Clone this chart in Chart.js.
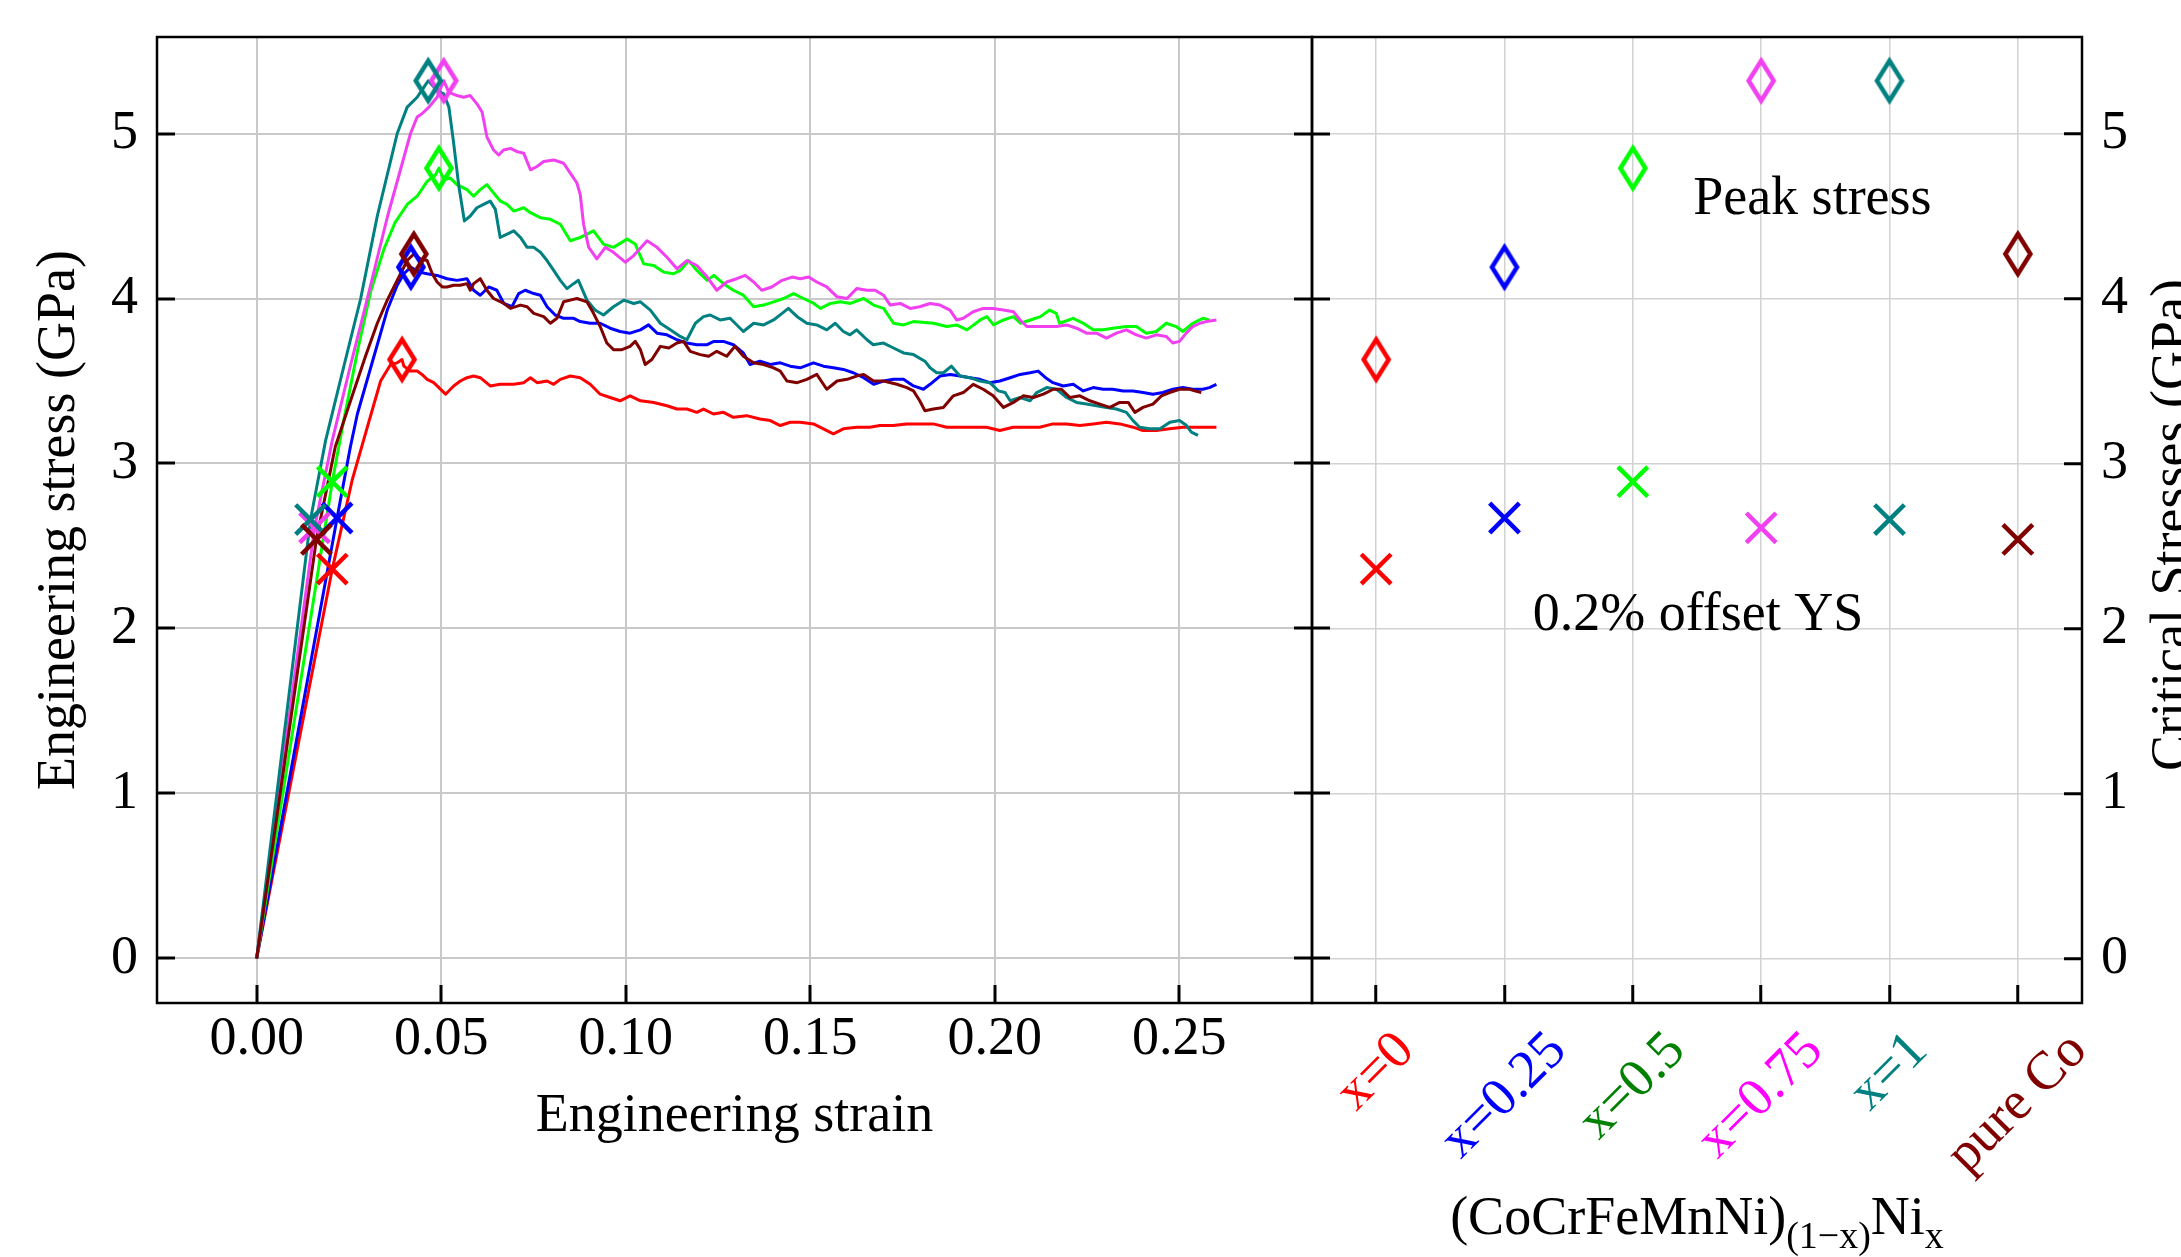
<!DOCTYPE html>
<html>
<head>
<meta charset="utf-8">
<script src="https://cdn.jsdelivr.net/npm/chart.js@4.4.1/dist/chart.umd.min.js"></script>
<style>
  html, body { margin: 0; padding: 0; background: #ffffff; }
  #wrap { position: relative; width: 2181px; height: 1257px; }
  #wrap canvas { position: absolute; left: 0; top: 0; }
</style>
</head>
<body>
<div id="wrap">
  <canvas id="curves" width="2181" height="1257"></canvas>
  <canvas id="summary" width="2181" height="1257"></canvas>
</div>
<script>
// ---------------- data ----------------
const alloys = ['x=0', 'x=0.25', 'x=0.5', 'x=0.75', 'x=1', 'pure Co'];

// critical stresses (GPa) and the strains where they occur
const peakStress  = [3.63, 4.19, 4.79, 5.32, 5.32, 4.27];
const peakStrain  = [0.0394, 0.0418, 0.0494, 0.0507, 0.0465, 0.0426];
const yieldStress = [2.36, 2.67, 2.89, 2.61, 2.66, 2.54];
const yieldStrain = [0.0205, 0.0218, 0.0205, 0.0157, 0.0146, 0.0162];

const strainTicks = [0, 0.05, 0.10, 0.15, 0.20, 0.25];
const stressTicks = [0, 1, 2, 3, 4, 5];

// engineering stress-strain curves, [strain, stress (GPa)]
const curveX0 = [[0,0],[0.0205,2.36],[0.0259,2.90],[0.0300,3.22],[0.0336,3.50],[0.0363,3.60],[0.0381,3.61],[0.0394,3.63],[0.0399,3.59],[0.0417,3.56],[0.0435,3.56],[0.0448,3.54],[0.0462,3.51],[0.0480,3.49],[0.0512,3.42],[0.0534,3.47],[0.0552,3.50],[0.0570,3.52],[0.0588,3.53],[0.0606,3.52],[0.0633,3.47],[0.0660,3.48],[0.0697,3.48],[0.0724,3.49],[0.0742,3.52],[0.0760,3.49],[0.0787,3.50],[0.0805,3.48],[0.0823,3.51],[0.0850,3.53],[0.0877,3.52],[0.0904,3.48],[0.0931,3.42],[0.0958,3.40],[0.0985,3.38],[0.1012,3.41],[0.1040,3.38],[0.1076,3.37],[0.1112,3.35],[0.1139,3.33],[0.1166,3.33],[0.1193,3.31],[0.1211,3.33],[0.1238,3.30],[0.1265,3.31],[0.1292,3.28],[0.1328,3.29],[0.1364,3.27],[0.1392,3.26],[0.1419,3.23],[0.1446,3.25],[0.1473,3.25],[0.1509,3.24],[0.1536,3.21],[0.1563,3.18],[0.1590,3.21],[0.1626,3.22],[0.1662,3.22],[0.1689,3.23],[0.1725,3.23],[0.1761,3.24],[0.1834,3.24],[0.1870,3.22],[0.1906,3.22],[0.1942,3.22],[0.1978,3.22],[0.2014,3.20],[0.2050,3.22],[0.2086,3.22],[0.2122,3.22],[0.2158,3.24],[0.2195,3.24],[0.2231,3.23],[0.2267,3.24],[0.2303,3.25],[0.2339,3.24],[0.2375,3.22],[0.2402,3.20],[0.2438,3.20],[0.2474,3.21],[0.2510,3.22],[0.2547,3.22],[0.2601,3.22]];

const curveX025 = [[0,0],[0.0218,2.67],[0.0254,3.10],[0.0273,3.30],[0.0318,3.65],[0.0354,3.93],[0.0381,4.08],[0.0399,4.15],[0.0418,4.19],[0.0440,4.16],[0.0462,4.15],[0.0489,4.14],[0.0516,4.12],[0.0543,4.11],[0.0570,4.12],[0.0588,4.05],[0.0606,4.02],[0.0629,4.07],[0.0651,4.05],[0.0670,3.97],[0.0692,3.95],[0.0710,4.03],[0.0728,4.05],[0.0751,4.03],[0.0769,4.02],[0.0787,3.95],[0.0809,3.90],[0.0832,3.88],[0.0859,3.88],[0.0877,3.86],[0.0904,3.85],[0.0931,3.85],[0.0958,3.82],[0.0985,3.80],[0.1012,3.79],[0.1040,3.81],[0.1062,3.84],[0.1085,3.79],[0.1112,3.78],[0.1139,3.75],[0.1166,3.73],[0.1193,3.72],[0.1221,3.72],[0.1239,3.74],[0.1265,3.74],[0.1292,3.72],[0.1319,3.67],[0.1337,3.60],[0.1364,3.62],[0.1392,3.60],[0.1419,3.61],[0.1446,3.59],[0.1473,3.58],[0.1509,3.61],[0.1536,3.59],[0.1563,3.58],[0.1590,3.57],[0.1617,3.55],[0.1645,3.52],[0.1672,3.48],[0.1699,3.50],[0.1726,3.51],[0.1753,3.51],[0.1780,3.47],[0.1807,3.45],[0.1825,3.48],[0.1852,3.53],[0.1880,3.54],[0.1906,3.53],[0.1933,3.52],[0.1960,3.51],[0.1987,3.49],[0.2014,3.50],[0.2042,3.52],[0.2069,3.54],[0.2096,3.55],[0.2118,3.56],[0.2138,3.52],[0.2158,3.49],[0.2186,3.47],[0.2213,3.48],[0.2240,3.44],[0.2267,3.46],[0.2294,3.45],[0.2320,3.45],[0.2348,3.44],[0.2375,3.44],[0.2402,3.43],[0.2429,3.42],[0.2456,3.43],[0.2483,3.45],[0.2510,3.46],[0.2537,3.45],[0.2564,3.45],[0.2582,3.46],[0.2601,3.48]];

const curveX05 = [[0,0],[0.0205,2.89],[0.0235,3.25],[0.0275,3.70],[0.0310,4.05],[0.0345,4.30],[0.0375,4.46],[0.0408,4.57],[0.0435,4.62],[0.0462,4.71],[0.0485,4.75],[0.0494,4.79],[0.0507,4.72],[0.0525,4.73],[0.0543,4.69],[0.0570,4.66],[0.0588,4.62],[0.0606,4.66],[0.0624,4.69],[0.0642,4.64],[0.0661,4.59],[0.0679,4.57],[0.0697,4.53],[0.0724,4.55],[0.0742,4.52],[0.0769,4.49],[0.0796,4.48],[0.0823,4.45],[0.0850,4.35],[0.0877,4.37],[0.0913,4.41],[0.0940,4.33],[0.0967,4.31],[0.1004,4.36],[0.1026,4.33],[0.1049,4.21],[0.1076,4.20],[0.1103,4.16],[0.1130,4.15],[0.1148,4.17],[0.1171,4.23],[0.1193,4.17],[0.1221,4.11],[0.1239,4.14],[0.1265,4.09],[0.1292,4.05],[0.1319,4.02],[0.1347,3.95],[0.1374,3.96],[0.1401,3.98],[0.1428,4.00],[0.1455,4.03],[0.1482,4.00],[0.1510,3.97],[0.1528,3.94],[0.1555,3.97],[0.1582,3.98],[0.1609,3.97],[0.1645,4.00],[0.1672,3.96],[0.1699,3.94],[0.1726,3.85],[0.1753,3.84],[0.1780,3.86],[0.1834,3.85],[0.1870,3.83],[0.1897,3.84],[0.1925,3.81],[0.1961,3.87],[0.1979,3.89],[0.1997,3.84],[0.2024,3.87],[0.2051,3.89],[0.2070,3.85],[0.2097,3.87],[0.2124,3.89],[0.2149,3.93],[0.2167,3.91],[0.2176,3.85],[0.2213,3.88],[0.2240,3.85],[0.2267,3.81],[0.2294,3.81],[0.2320,3.82],[0.2357,3.83],[0.2384,3.83],[0.2411,3.79],[0.2438,3.80],[0.2465,3.85],[0.2492,3.83],[0.2510,3.80],[0.2537,3.85],[0.2564,3.88],[0.2582,3.87]];

const curveX075 = [[0,0],[0.0157,2.61],[0.0205,3.14],[0.0255,3.60],[0.0300,4.00],[0.0355,4.50],[0.0417,5.00],[0.0435,5.10],[0.0448,5.12],[0.0467,5.16],[0.0489,5.22],[0.0507,5.32],[0.0521,5.25],[0.0543,5.23],[0.0561,5.22],[0.0579,5.23],[0.0597,5.18],[0.0611,5.13],[0.0624,4.98],[0.0642,4.90],[0.0656,4.87],[0.0669,4.90],[0.0688,4.91],[0.0706,4.89],[0.0724,4.88],[0.0742,4.78],[0.0760,4.80],[0.0778,4.83],[0.0805,4.84],[0.0832,4.82],[0.0850,4.76],[0.0868,4.70],[0.0877,4.63],[0.0886,4.45],[0.0900,4.31],[0.0922,4.24],[0.0945,4.31],[0.0967,4.28],[0.0999,4.22],[0.1022,4.26],[0.1058,4.35],[0.1085,4.31],[0.1112,4.25],[0.1139,4.18],[0.1166,4.23],[0.1193,4.20],[0.1221,4.13],[0.1247,4.05],[0.1274,4.10],[0.1301,4.12],[0.1324,4.14],[0.1347,4.10],[0.1369,4.05],[0.1396,4.07],[0.1424,4.11],[0.1451,4.13],[0.1473,4.12],[0.1496,4.13],[0.1518,4.10],[0.1545,4.07],[0.1573,4.01],[0.1600,4.00],[0.1626,4.06],[0.1654,4.05],[0.1676,4.05],[0.1699,4.02],[0.1717,3.96],[0.1744,3.97],[0.1771,3.94],[0.1797,3.95],[0.1825,3.97],[0.1852,3.96],[0.1879,3.93],[0.1897,3.87],[0.1915,3.88],[0.1942,3.92],[0.1969,3.94],[0.1996,3.94],[0.2024,3.93],[0.2051,3.92],[0.2069,3.87],[0.2087,3.83],[0.2114,3.83],[0.2141,3.83],[0.2168,3.83],[0.2195,3.84],[0.2222,3.82],[0.2249,3.79],[0.2276,3.79],[0.2303,3.76],[0.2330,3.79],[0.2357,3.81],[0.2384,3.78],[0.2411,3.76],[0.2438,3.78],[0.2465,3.77],[0.2483,3.73],[0.2501,3.74],[0.2519,3.79],[0.2537,3.83],[0.2556,3.85],[0.2574,3.86],[0.2601,3.87]];

const curveX1 = [[0,0],[0.0146,2.66],[0.0187,3.14],[0.0232,3.55],[0.0282,4.00],[0.0327,4.50],[0.0381,5.00],[0.0408,5.16],[0.0435,5.22],[0.0453,5.28],[0.0465,5.32],[0.0489,5.26],[0.0507,5.24],[0.0521,5.16],[0.0534,4.94],[0.0548,4.68],[0.0563,4.47],[0.0579,4.50],[0.0597,4.55],[0.0615,4.57],[0.0633,4.59],[0.0647,4.54],[0.0660,4.37],[0.0679,4.39],[0.0697,4.41],[0.0715,4.37],[0.0733,4.31],[0.0751,4.31],[0.0769,4.28],[0.0787,4.23],[0.0805,4.17],[0.0823,4.11],[0.0841,4.06],[0.0859,4.09],[0.0872,4.11],[0.0895,3.99],[0.0917,3.93],[0.0940,3.90],[0.0967,3.95],[0.0995,3.99],[0.1022,3.97],[0.1040,3.98],[0.1067,3.93],[0.1094,3.85],[0.1121,3.81],[0.1148,3.77],[0.1166,3.75],[0.1189,3.85],[0.1211,3.89],[0.1229,3.90],[0.1256,3.87],[0.1283,3.88],[0.1319,3.80],[0.1347,3.85],[0.1374,3.84],[0.1401,3.87],[0.1424,3.91],[0.1441,3.94],[0.1465,3.89],[0.1491,3.85],[0.1518,3.84],[0.1545,3.81],[0.1568,3.85],[0.1590,3.80],[0.1608,3.78],[0.1626,3.81],[0.1654,3.75],[0.1671,3.72],[0.1699,3.73],[0.1726,3.70],[0.1753,3.67],[0.1780,3.66],[0.1811,3.62],[0.1825,3.58],[0.1843,3.55],[0.1861,3.55],[0.1883,3.59],[0.1906,3.53],[0.1933,3.52],[0.1960,3.50],[0.1987,3.49],[0.2010,3.44],[0.2028,3.43],[0.2042,3.38],[0.2069,3.40],[0.2096,3.38],[0.2114,3.43],[0.2141,3.46],[0.2168,3.45],[0.2195,3.40],[0.2222,3.37],[0.2249,3.36],[0.2276,3.35],[0.2303,3.34],[0.2330,3.33],[0.2357,3.31],[0.2375,3.26],[0.2393,3.22],[0.2420,3.21],[0.2448,3.21],[0.2475,3.25],[0.2501,3.26],[0.2520,3.23],[0.2533,3.19],[0.2551,3.17]];

const curveCo = [[0,0],[0.0162,2.54],[0.0213,3.10],[0.0250,3.35],[0.0295,3.65],[0.0327,3.85],[0.0354,3.99],[0.0390,4.15],[0.0408,4.23],[0.0426,4.27],[0.0444,4.24],[0.0462,4.23],[0.0476,4.15],[0.0489,4.10],[0.0503,4.07],[0.0516,4.07],[0.0534,4.08],[0.0552,4.08],[0.0570,4.09],[0.0579,4.05],[0.0588,4.09],[0.0606,4.12],[0.0624,4.05],[0.0642,4.00],[0.0670,3.97],[0.0688,3.94],[0.0715,3.96],[0.0733,3.95],[0.0751,3.91],[0.0778,3.89],[0.0796,3.85],[0.0814,3.88],[0.0832,3.98],[0.0850,3.99],[0.0868,4.00],[0.0895,3.98],[0.0913,3.91],[0.0931,3.83],[0.0949,3.73],[0.0967,3.69],[0.0990,3.69],[0.1012,3.71],[0.1026,3.74],[0.1040,3.69],[0.1053,3.60],[0.1071,3.63],[0.1094,3.71],[0.1117,3.70],[0.1139,3.73],[0.1157,3.74],[0.1175,3.68],[0.1202,3.66],[0.1225,3.65],[0.1247,3.68],[0.1274,3.65],[0.1296,3.71],[0.1319,3.65],[0.1347,3.61],[0.1374,3.60],[0.1401,3.58],[0.1419,3.56],[0.1437,3.50],[0.1465,3.49],[0.1491,3.51],[0.1518,3.54],[0.1545,3.45],[0.1573,3.50],[0.1600,3.51],[0.1626,3.53],[0.1645,3.54],[0.1672,3.50],[0.1699,3.50],[0.1735,3.48],[0.1762,3.46],[0.1780,3.44],[0.1797,3.38],[0.1811,3.32],[0.1834,3.33],[0.1861,3.34],[0.1888,3.41],[0.1915,3.43],[0.1942,3.48],[0.1969,3.45],[0.1996,3.41],[0.2024,3.34],[0.2051,3.37],[0.2078,3.41],[0.2105,3.40],[0.2132,3.42],[0.2159,3.45],[0.2181,3.45],[0.2204,3.40],[0.2231,3.41],[0.2258,3.38],[0.2285,3.36],[0.2312,3.34],[0.2339,3.37],[0.2362,3.37],[0.2380,3.31],[0.2402,3.34],[0.2429,3.36],[0.2452,3.41],[0.2474,3.43],[0.2501,3.45],[0.2529,3.45],[0.2542,3.44],[0.2560,3.43]];

const curves = [curveX0, curveX025, curveX05, curveX075, curveX1, curveCo];

// ---------------- styling ----------------
const FONT = "'Liberation Serif', 'DejaVu Serif', serif";
const FS = 54;
const markColors  = ['#ff0000', '#0000ff', '#00ff00', '#f040f0', '#008080', '#800000'];
const labelColors = ['#ff0000', '#0000ff', '#008000', '#ff00ff', '#008080', '#800000'];

Chart.defaults.font.family = FONT;
Chart.defaults.font.size = FS;
Chart.defaults.color = '#000000';

const Y_MIN = -0.27, Y_MAX = 5.585;

// thin open diamond used as the peak-stress marker
function diamondMarker(color) {
  const w = 25, h = 40, lw = 4.5;
  const c = document.createElement('canvas');
  c.width = 40; c.height = 58;
  const g = c.getContext('2d');
  g.strokeStyle = color; g.lineWidth = lw; g.lineJoin = 'miter';
  const cx = c.width / 2, cy = c.height / 2;
  g.beginPath();
  g.moveTo(cx, cy - h / 2); g.lineTo(cx + w / 2, cy);
  g.lineTo(cx, cy + h / 2); g.lineTo(cx - w / 2, cy);
  g.closePath(); g.stroke();
  return c;
}
const diamonds = markColors.map(diamondMarker);

const fixedTicks = values => scale => { scale.ticks = values.map(v => ({ value: v })); };
function clearPadding(s) { s.paddingTop = 0; s.paddingBottom = 0; s.paddingLeft = 0; s.paddingRight = 0; }
function gridOpts(extra) {
  return Object.assign({ color: '#c9c9c9', lineWidth: 2, tickColor: '#000000', tickWidth: 3,
                         tickLength: -18, drawTicks: true }, extra || {});
}

const framePlugin = {
  id: 'frame',
  afterDraw(chart) {
    const { ctx, chartArea: a } = chart;
    ctx.save();
    ctx.strokeStyle = '#000000';
    ctx.lineWidth = 2.5;
    ctx.strokeRect(a.left, a.top, a.right - a.left, a.bottom - a.top);
    ctx.restore();
  }
};

// ---------------- left panel: stress-strain curves ----------------
const curveSets = curves.map((c, i) => ({
  type: 'scatter',
  data: c.map(p => ({ x: p[0], y: p[1] })),
  showLine: true,
  borderColor: markColors[i],
  borderWidth: 3,
  borderJoinStyle: 'round',
  pointRadius: 0,
  tension: 0,
  order: 10 - i
}));
const peakSet = {
  data: peakStrain.map((s, i) => ({ x: s, y: peakStress[i] })),
  showLine: false, pointStyle: diamonds, pointRadius: 12, order: 0
};
const yieldSet = {
  data: yieldStrain.map((s, i) => ({ x: s, y: yieldStress[i] })),
  showLine: false, pointStyle: 'crossRot', pointRadius: 21,
  pointBorderColor: markColors, pointBackgroundColor: markColors, pointBorderWidth: 4.5, order: 0
};

const leftText = {
  id: 'leftText',
  afterDraw(chart) {
    const { ctx, chartArea: a } = chart;
    ctx.save();
    ctx.fillStyle = '#000000';
    ctx.font = `${FS}px ${FONT}`;
    ctx.textAlign = 'center';
    ctx.textBaseline = 'alphabetic';
    ctx.fillText('Engineering strain', (a.left + a.right) / 2, a.bottom + 128);
    ctx.translate(74, (a.top + a.bottom) / 2);
    ctx.rotate(-Math.PI / 2);
    ctx.fillText('Engineering stress (GPa)', 0, 0);
    ctx.restore();
  }
};

new Chart(document.getElementById('curves'), {
  type: 'scatter',
  data: { datasets: [peakSet, yieldSet, ...curveSets] },
  options: {
    responsive: false, animation: false, devicePixelRatio: 1, events: [],
    layout: { padding: { top: 37, left: 0, right: 0, bottom: 0 } },
    plugins: { legend: { display: false }, tooltip: { enabled: false } },
    scales: {
      x: {
        type: 'linear', position: 'bottom', min: -0.027, max: 0.286,
        afterBuildTicks: fixedTicks(strainTicks),
        afterFit: s => { s.height = 254; clearPadding(s); },
        grid: gridOpts(), border: { display: false },
        ticks: { padding: 22, maxRotation: 0, autoSkip: false, callback: v => v.toFixed(2) }
      },
      y: {
        type: 'linear', position: 'left', min: Y_MIN, max: Y_MAX,
        afterBuildTicks: fixedTicks(stressTicks),
        afterFit: s => { s.width = 157; clearPadding(s); },
        grid: gridOpts(), border: { display: false },
        ticks: { padding: 37, callback: v => String(v) }
      },
      yEdge: {
        type: 'linear', position: 'right', min: Y_MIN, max: Y_MAX,
        afterBuildTicks: fixedTicks(stressTicks),
        afterFit: s => { s.width = 869; clearPadding(s); },
        grid: gridOpts({ drawOnChartArea: false }), border: { display: false },
        ticks: { display: false }
      }
    }
  },
  plugins: [framePlugin, leftText]
});

// ---------------- right panel: critical stresses per alloy ----------------
const rightText = {
  id: 'rightText',
  afterDraw(chart) {
    const { ctx, chartArea: a } = chart;
    const xs = chart.scales.x, ys = chart.scales.y;
    ctx.save();
    ctx.font = `${FS}px ${FONT}`;

    // rotated alloy names under each column
    alloys.forEach((lab, i) => {
      const px = xs.getPixelForValue(i);
      const w = ctx.measureText(lab).width;
      const half = (w + FS * 0.7) * Math.SQRT1_2 / 2;
      ctx.save();
      ctx.translate(px, a.bottom + 26 + half);
      ctx.rotate(-Math.PI / 4);
      ctx.textAlign = 'center';
      ctx.textBaseline = 'middle';
      ctx.fillStyle = labelColors[i];
      ctx.fillText(lab, 0, 0);
      ctx.restore();
    });

    // in-plot annotations
    ctx.fillStyle = '#000000';
    ctx.textAlign = 'left';
    ctx.textBaseline = 'alphabetic';
    ctx.fillText('Peak stress', xs.getPixelForValue(2.47), ys.getPixelForValue(4.51));
    ctx.fillText('0.2% offset YS', xs.getPixelForValue(1.22), ys.getPixelForValue(1.99));

    // composition label with subscripts
    const SUB = Math.round(FS * 0.7);
    const parts = [['(CoCrFeMnNi)', FS, 0], ['(1\u2212x)', SUB, 14], ['Ni', FS, 0], ['x', SUB, 14]];
    let total = 0;
    parts.forEach(p => { ctx.font = `${p[1]}px ${FONT}`; total += ctx.measureText(p[0]).width; });
    let x = (a.left + a.right) / 2 - total / 2;
    const base = a.bottom + 231;
    parts.forEach(p => {
      ctx.font = `${p[1]}px ${FONT}`;
      ctx.fillText(p[0], x, base + p[2]);
      x += ctx.measureText(p[0]).width;
    });

    // right-hand axis title
    ctx.font = `${FS}px ${FONT}`;
    ctx.textAlign = 'center';
    ctx.translate(2188, (a.top + a.bottom) / 2 + 5);
    ctx.rotate(-Math.PI / 2);
    ctx.fillText('Critical Stresses (GPa)', 0, 0);
    ctx.restore();
  }
};

new Chart(document.getElementById('summary'), {
  type: 'line',
  data: {
    labels: alloys,
    datasets: [
      { data: peakStress, showLine: false, pointStyle: diamonds, pointRadius: 12 },
      { data: yieldStress, showLine: false, pointStyle: 'crossRot', pointRadius: 21,
        pointBorderColor: markColors, pointBackgroundColor: markColors, pointBorderWidth: 4.5 }
    ]
  },
  options: {
    responsive: false, animation: false, devicePixelRatio: 1, events: [],
    layout: { padding: { top: 37, left: 0, right: 0, bottom: 0 } },
    plugins: { legend: { display: false }, tooltip: { enabled: false } },
    scales: {
      x: {
        type: 'category', position: 'bottom', offset: true,
        afterFit: s => { s.height = 254; clearPadding(s); },
        grid: gridOpts({ color: '#d2d2d2', lineWidth: 1.5 }), border: { display: false },
        ticks: { display: false }
      },
      y: {
        type: 'linear', position: 'right', min: Y_MIN, max: Y_MAX,
        afterBuildTicks: fixedTicks(stressTicks),
        afterFit: s => { s.width = 99; clearPadding(s); },
        grid: gridOpts({ color: '#d2d2d2', lineWidth: 1.5 }), border: { display: false },
        ticks: { padding: 37, callback: v => String(v) }
      },
      yEdge: {
        type: 'linear', position: 'left', min: Y_MIN, max: Y_MAX,
        afterBuildTicks: fixedTicks(stressTicks),
        afterFit: s => { s.width = 1312; clearPadding(s); },
        grid: gridOpts({ drawOnChartArea: false }), border: { display: false },
        ticks: { display: false }
      }
    }
  },
  plugins: [framePlugin, rightText]
});
</script>
</body>
</html>
